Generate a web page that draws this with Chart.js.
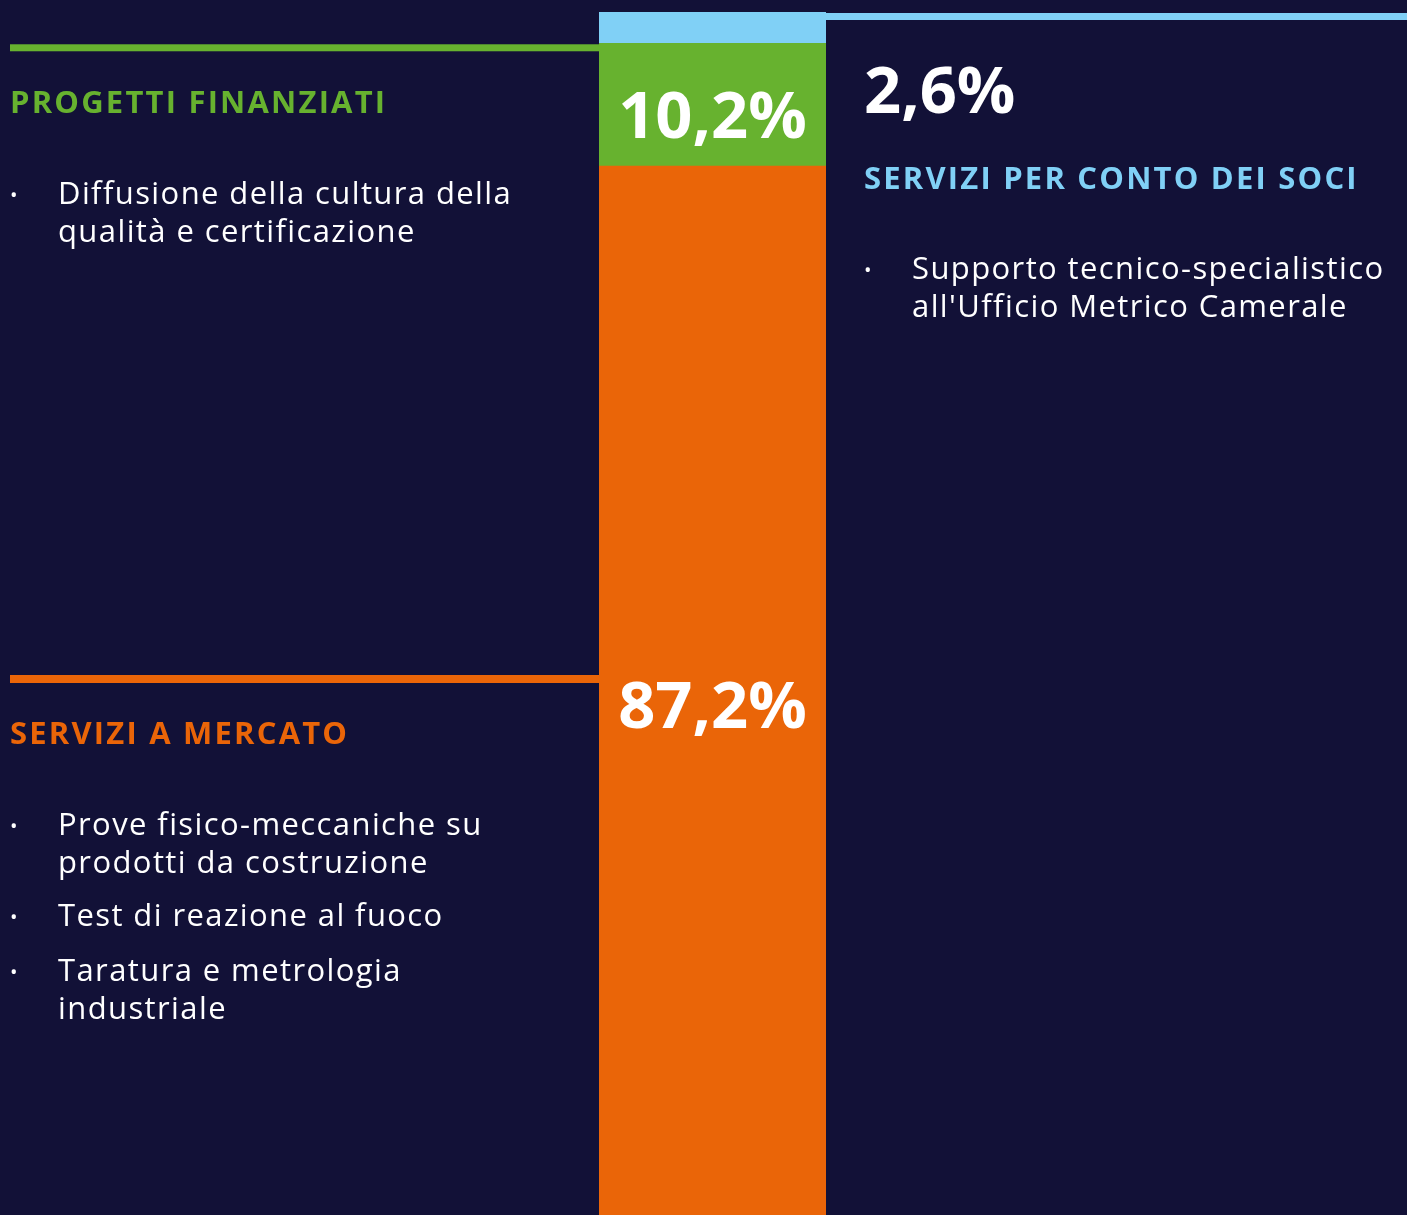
<!DOCTYPE html>
<html>
<head>
<meta charset="utf-8">
<script src="https://cdn.jsdelivr.net/npm/chart.js@4/dist/chart.umd.min.js"></script>
<style>
  html, body { margin:0; padding:0; background:#121137; }
  #wrap { position:relative; width:1407px; height:1215px; overflow:hidden; background:#121137; font-family:"Open Sans", sans-serif; }
  #chart { position:absolute; left:0; top:0; }
  .tit { position:absolute; font-weight:700; font-size:31px; line-height:31px; letter-spacing:2.2px; white-space:nowrap; }
  .txt { position:absolute; color:#fff; font-size:31px; line-height:38px; letter-spacing:1.4px; white-space:nowrap; }
  .dot { position:absolute; color:#fff; font-size:20px; line-height:38px; }
</style>
</head>
<body>
<div id="wrap">
  <canvas id="chart" width="1407" height="1215"></canvas>

  <div class="tit" style="left:10px; top:86px; color:#67b22f;">PROGETTI FINANZIATI</div>
  <div class="dot" style="left:10px; top:176px;">•</div>
  <div class="txt" style="left:58px; top:173px;">Diffusione della cultura della<br>qualità e certificazione</div>

  <div class="tit" style="left:10px; top:717px; color:#ea6508;">SERVIZI A MERCATO</div>
  <div class="dot" style="left:10px; top:807px;">•</div>
  <div class="txt" style="left:58px; top:804px;">Prove fisico-meccaniche su<br>prodotti da costruzione</div>
  <div class="dot" style="left:10px; top:898px;">•</div>
  <div class="txt" style="left:58px; top:895px;">Test di reazione al fuoco</div>
  <div class="dot" style="left:10px; top:953px;">•</div>
  <div class="txt" style="left:58px; top:950px;">Taratura e metrologia<br>industriale</div>

  <div class="tit" style="left:864px; top:162px; color:#80d0f6;">SERVIZI PER CONTO DEI SOCI</div>
  <div class="dot" style="left:864px; top:251px;">•</div>
  <div class="txt" style="left:912px; top:248px;">Supporto tecnico-specialistico<br>all'Ufficio Metrico Camerale</div>
</div>

<script>
// dati
var categories = ['Ricavi'];
var seriesNames = ['SERVIZI A MERCATO', 'PROGETTI FINANZIATI', 'SERVIZI PER CONTO DEI SOCI'];
var seriesValues = [87.2, 10.2, 2.6];
var seriesColors = ['#ea6508', '#67b22f', '#80d0f6'];

// etichette percentuali + linee di richiamo
var labelPlugin = {
  id: 'labelPlugin',
  afterDatasetsDraw: function(chart) {
    var ctx = chart.ctx;
    var bars = [];
    for (let i = 0; i < seriesValues.length; i++) {
      bars.push(chart.getDatasetMeta(i).data[0]);
    }
    var left = bars[0].x - bars[0].width / 2;
    var right = bars[0].x + bars[0].width / 2;

    ctx.save();
    // linee
    ctx.fillStyle = seriesColors[1];
    ctx.fillRect(10, bars[1].y + 1, left - 10, 7);
    ctx.fillStyle = seriesColors[0];
    ctx.fillRect(10, 675, left - 10, 8);
    ctx.fillStyle = seriesColors[2];
    ctx.fillRect(right, bars[2].y + 1, chart.width - right, 7);

    // percentuali
    ctx.fillStyle = '#fff';
    ctx.font = '700 65px "Open Sans"';
    ctx.textBaseline = 'alphabetic';
    var fmt = function(v) { return v.toFixed(1).replace('.', ',') + '%'; };
    ctx.textAlign = 'center';
    ctx.fillText(fmt(seriesValues[0]), bars[0].x, 728);
    ctx.fillText(fmt(seriesValues[1]), bars[1].x, 138);
    ctx.textAlign = 'left';
    ctx.fillText(fmt(seriesValues[2]), right + 38, 113);
    ctx.restore();
  }
};

var datasets = [];
for (let i = 0; i < seriesValues.length; i++) {
  datasets.push({
    label: seriesNames[i],
    data: [seriesValues[i]],
    backgroundColor: seriesColors[i],
    borderWidth: 0,
    barPercentage: 1,
    categoryPercentage: 1
  });
}

var chart = new Chart(document.getElementById('chart').getContext('2d'), {
  type: 'bar',
  data: { labels: categories, datasets: datasets },
  options: {
    responsive: false,
    animation: false,
    devicePixelRatio: 1,
    layout: { padding: { left: 599, right: 581, top: 12, bottom: 0 } },
    plugins: { legend: { display: false }, tooltip: { enabled: false } },
    scales: {
      x: { stacked: true, display: false },
      y: { stacked: true, display: false, min: 0, max: 100 }
    }
  },
  plugins: [labelPlugin]
});
</script>
</body>
</html>
